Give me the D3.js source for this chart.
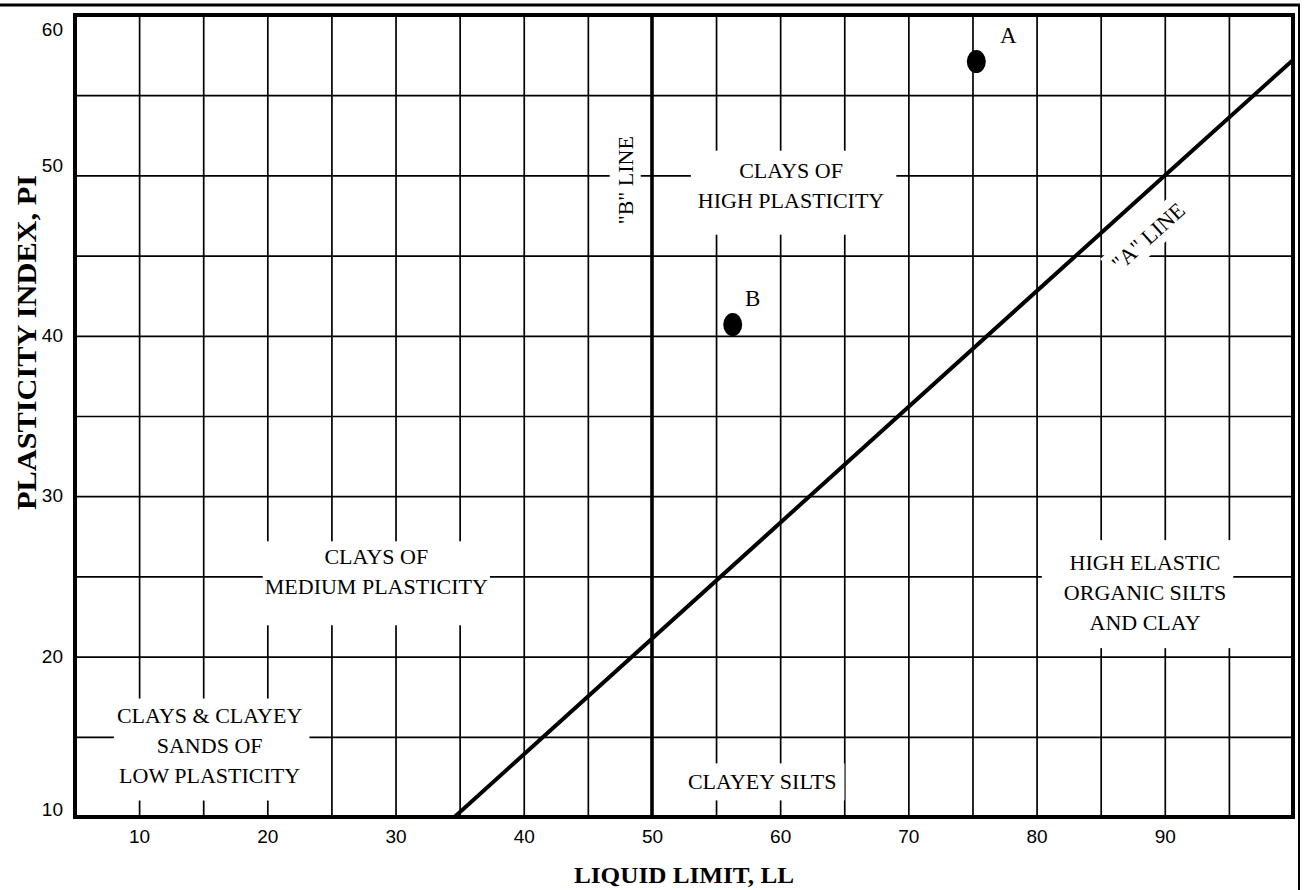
<!DOCTYPE html>
<html>
<head>
<meta charset="utf-8">
<script src="https://cdn.jsdelivr.net/npm/d3@7"></script>
<style>
  html, body { margin: 0; padding: 0; background: #fff; }
  svg { display: block; }
</style>
</head>
<body>
<svg id="chart" width="1306" height="890"></svg>
<script>
// ---------------- DATA ----------------
const llTicks = [10, 20, 30, 40, 50, 60, 70, 80, 90];
const piTicks = [10, 20, 30, 40, 50, 60];
const llDomain = [5, 100];
const piDomain = [10, 60];

const sampleNames = ["A", "B"];
const sampleLL = [75.3, 56.3];
const samplePI = [57.1, 40.7];

const aLineLL = [34.6, 90, 100];
const aLinePI = [10, 50, 57.2];
const bLineLL = [50, 50];
const bLinePI = [10, 60];

const regionLines = [
  ["CLAYS & CLAYEY", "SANDS OF", "LOW PLASTICITY"],
  ["CLAYS OF", "MEDIUM PLASTICITY"],
  ["CLAYS OF", "HIGH PLASTICITY"],
  ["CLAYEY SILTS"],
  ["HIGH ELASTIC", "ORGANIC SILTS", "AND CLAY"]
];
const regionLL = [15.5, 28.5, 60.85, 58.6, 88.46];
const regionPI = [14.5, 25.3, 49.4, 12.2, 24.0];

const lineLabels = ['"B" LINE', '"A" LINE'];
const lineLabelLL = [47.9, 88.7];
const lineLabelPI = [49.7, 46.2];

const xTitle = "LIQUID LIMIT, LL";
const yTitle = "PLASTICITY INDEX, PI";

// ---------------- LAYOUT / STYLE ----------------
const W = 1306, H = 890;
const L = 75, R = 1293, T = 15, B = 817;
const serif = "'Liberation Serif', 'Times New Roman', serif";
const sans = "'Liberation Sans', Arial, sans-serif";

const regionPads = [[3,4,7,13],[2,3,2,26],[7,7,12,22],[4,6,8,6],[22,10,7,13]];
const lineLabelRot = [-90, -42];
const lineLabelPads = [[6,3,6,3],[6,3,6,3]];
const sampleLabelOffset = [[32, -27], [20, -27]];

const svg = d3.select("#chart");
svg.append("rect").attr("width", W).attr("height", H).attr("fill", "#fff");

const x = d3.scaleLinear().domain(llDomain).range([L, R]);
const y = d3.scaleLinear().domain(piDomain).range([B, T]);

// outer page frame (top & right)
svg.append("line").attr("x1", 0).attr("x2", 1300).attr("y1", 5).attr("y2", 5)
  .attr("stroke", "#000").attr("stroke-width", 3);
svg.append("line").attr("x1", 1299).attr("x2", 1299).attr("y1", 4).attr("y2", H)
  .attr("stroke", "#000").attr("stroke-width", 2);

// ---------------- GRID ----------------
const gridLL = d3.range(10, 100, 5);
const gridPI = d3.range(15, 60, 5);

const gx = svg.append("g").attr("transform", `translate(0,${B})`)
  .call(d3.axisBottom(x).tickValues(gridLL).tickSize(-(B - T)).tickFormat(""));
const gy = svg.append("g").attr("transform", `translate(${L},0)`)
  .call(d3.axisLeft(y).tickValues(gridPI).tickSize(-(R - L)).tickFormat(""));
[gx, gy].forEach(g => {
  g.select(".domain").remove();
  g.selectAll("line").attr("stroke", "#000").attr("stroke-width", 1.7);
});

// ---------------- LABEL BACKGROUNDS & TEXTS ----------------
const bgLayer = svg.append("g");
const markLayer = svg.append("g");
const textLayer = svg.append("g");

function addLabel(lines, cx, cy, rot, pad, fontSize, lh) {
  const g = textLayer.append("g").attr("transform", `translate(${cx},${cy}) rotate(${rot})`);
  const n = lines.length;
  lines.forEach((t, i) => {
    g.append("text")
      .attr("x", 0)
      .attr("y", (i - (n - 1) / 2) * lh)
      .attr("dy", "0.35em")
      .attr("text-anchor", "middle")
      .attr("font-family", serif)
      .attr("font-size", fontSize)
      .attr("fill", "#000")
      .text(t);
  });
  const bb = g.node().getBBox();
  bgLayer.append("rect")
    .attr("transform", `translate(${cx},${cy}) rotate(${rot})`)
    .attr("x", bb.x - pad[0])
    .attr("y", bb.y - pad[1])
    .attr("width", bb.width + pad[0] + pad[2])
    .attr("height", bb.height + pad[1] + pad[3])
    .attr("fill", "#fff");
}

regionLines.forEach((lines, i) => {
  addLabel(lines, x(regionLL[i]), y(regionPI[i]), 0, regionPads[i], 22, 30);
});
lineLabels.forEach((t, i) => {
  addLabel([t], x(lineLabelLL[i]), y(lineLabelPI[i]), lineLabelRot[i], lineLabelPads[i], 22, 30);
});

// ---------------- A & B LINES ----------------
const lineGen = d3.line().x(d => x(d[0])).y(d => y(d[1]));
markLayer.append("path")
  .attr("d", lineGen(aLineLL.map((v, i) => [v, aLinePI[i]])))
  .attr("fill", "none").attr("stroke", "#000").attr("stroke-width", 4);
markLayer.append("path")
  .attr("d", lineGen(bLineLL.map((v, i) => [v, bLinePI[i]])))
  .attr("fill", "none").attr("stroke", "#000").attr("stroke-width", 3.5);

// ---------------- FRAME ----------------
markLayer.append("rect")
  .attr("x", L).attr("y", T).attr("width", R - L).attr("height", B - T)
  .attr("fill", "none").attr("stroke", "#000").attr("stroke-width", 4);

// ---------------- SAMPLE POINTS ----------------
sampleNames.forEach((name, i) => {
  const px = x(sampleLL[i]), py = y(samplePI[i]);
  markLayer.append("ellipse")
    .attr("cx", px).attr("cy", py).attr("rx", 9.5).attr("ry", 11.5)
    .attr("fill", "#000");
  textLayer.append("text")
    .attr("x", px + sampleLabelOffset[i][0])
    .attr("y", py + sampleLabelOffset[i][1])
    .attr("dy", "0.35em")
    .attr("text-anchor", "middle")
    .attr("font-family", serif)
    .attr("font-size", 23)
    .text(name);
});

// ---------------- AXES TICK LABELS ----------------
const ax = svg.append("g").attr("transform", `translate(0,${B})`)
  .call(d3.axisBottom(x).tickValues(llTicks).tickSize(0).tickPadding(13));
const ay = svg.append("g").attr("transform", `translate(${L},0)`)
  .call(d3.axisLeft(y).tickValues(piTicks).tickSize(0).tickPadding(12));
[ax, ay].forEach(g => {
  g.select(".domain").remove();
  g.selectAll("text").attr("font-family", sans).attr("font-size", 19).attr("fill", "#000");
});
ay.selectAll(".tick").attr("transform", d => {
  let yy = y(d);
  if (d === 60) yy += 15;
  if (d === 50) yy -= 9;
  if (d === 10) yy -= 7;
  return `translate(0,${yy})`;
});

// ---------------- AXIS TITLES ----------------
svg.append("text")
  .attr("x", (L + R) / 2)
  .attr("y", 883)
  .attr("text-anchor", "middle")
  .attr("font-family", serif)
  .attr("font-weight", "bold")
  .attr("font-size", 24)
  .attr("textLength", 220)
  .attr("lengthAdjust", "spacingAndGlyphs")
  .text(xTitle);

svg.append("text")
  .attr("transform", `translate(36,${(175 + 510) / 2}) rotate(-90)`)
  .attr("text-anchor", "middle")
  .attr("font-family", serif)
  .attr("font-weight", "bold")
  .attr("font-size", 28)
  .attr("textLength", 335)
  .attr("lengthAdjust", "spacingAndGlyphs")
  .text(yTitle);
</script>
</body>
</html>
